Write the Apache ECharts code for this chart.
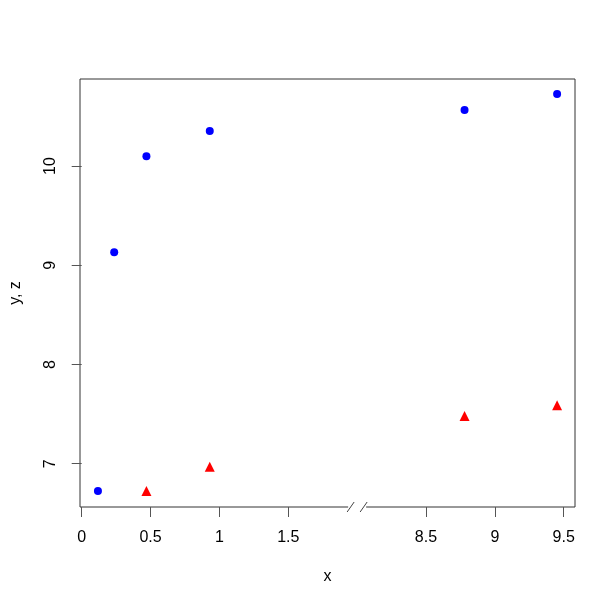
<!DOCTYPE html>
<html>
<head>
<meta charset="utf-8">
<script src="https://cdn.jsdelivr.net/npm/echarts@6/dist/echarts.min.js"></script>
<style>html,body{margin:0;padding:0;background:#fff}#c{width:616px;height:605px}</style>
</head>
<body>
<div id="c"></div>
<script>
// Data (original x values; gap between 2 and 8 is removed on the axis)
var blueX = [0.118, 0.236, 0.470, 0.930, 8.780, 9.452];
var blueY = [6.725, 9.131, 10.100, 10.354, 10.566, 10.727];
var redX = [0.470, 0.930, 8.780, 9.452];
var redY = [6.725, 6.970, 7.480, 7.590];
var xTickLabels = [0, 0.5, 1, 1.5, 8.5, 9, 9.5];
var yTickLabels = [7, 8, 9, 10];
var gapFrom = 2, gapTo = 8;

function toAxis(x) { return x > gapFrom ? x - (gapTo - gapFrom) : x; }
function fromAxis(v) { return v > gapFrom ? v + (gapTo - gapFrom) : v; }
function fmt(v) { return String(Math.round(v * 10) / 10); }

var chart = echarts.init(document.getElementById('c'), null, {renderer: 'canvas'});
var font = 'Liberation Sans, Arial, Helvetica, sans-serif';
var xTicks = xTickLabels.map(toAxis);

var option = {
  backgroundColor: '#fff',
  animation: false,
  grid: {left: 79, top: 79, right: 41, bottom: 98, show: true, borderColor: '#333', borderWidth: 1, backgroundColor: 'transparent'},
  xAxis: {
    type: 'value', min: -0.0123, max: 3.582,
    name: 'x', nameLocation: 'middle', nameGap: 62,
    nameTextStyle: {fontFamily: font, fontSize: 16, color: '#000'},
    axisLine: {show: false},
    axisTick: {show: true, length: 10, inside: false, customValues: xTicks, lineStyle: {color: '#555', width: 1}},
    axisLabel: {customValues: xTicks, margin: 23, fontFamily: font, fontSize: 16, color: '#000',
      formatter: function (v) { return fmt(fromAxis(v)); }},
    splitLine: {show: false}
  },
  yAxis: {
    type: 'value', min: 6.5635, max: 10.878,
    name: 'y, z', nameLocation: 'middle', nameGap: 56, nameRotate: 90,
    nameTextStyle: {fontFamily: font, fontSize: 16, color: '#000'},
    axisLine: {show: false},
    axisTick: {show: true, length: 10, customValues: yTickLabels, lineStyle: {color: '#555', width: 1}},
    axisLabel: {customValues: yTickLabels, margin: 21, rotate: 90, fontFamily: font, fontSize: 16, color: '#000',
      formatter: function (v) { return fmt(v); }},
    splitLine: {show: false}
  },
  series: [
    {type: 'scatter', symbol: 'circle', symbolSize: 8, itemStyle: {color: '#0000FF', opacity: 1},
      data: blueX.map(function (x, i) { return [toAxis(x), blueY[i]]; })},
    {type: 'scatter', symbol: 'triangle', symbolSize: 10, itemStyle: {color: '#FF0000', opacity: 1},
      data: redX.map(function (x, i) { return [toAxis(x), redY[i]]; })}
  ]
};
chart.setOption(option);

// axis break marks
var bx = chart.convertToPixel({xAxisIndex: 0}, gapFrom);
var by = chart.convertToPixel({yAxisIndex: 0}, 6.5635);
chart.setOption({
  graphic: [
    {type: 'rect', shape: {x: bx - 9, y: by - 2, width: 18, height: 4}, style: {fill: '#fff'}, z: 100},
    {type: 'line', shape: {x1: bx - 10, y1: by + 5, x2: bx - 3, y2: by - 5}, style: {stroke: '#444', lineWidth: 1}, z: 101},
    {type: 'line', shape: {x1: bx + 3, y1: by + 5, x2: bx + 10, y2: by - 5}, style: {stroke: '#444', lineWidth: 1}, z: 101}
  ]
});
</script>
</body>
</html>
